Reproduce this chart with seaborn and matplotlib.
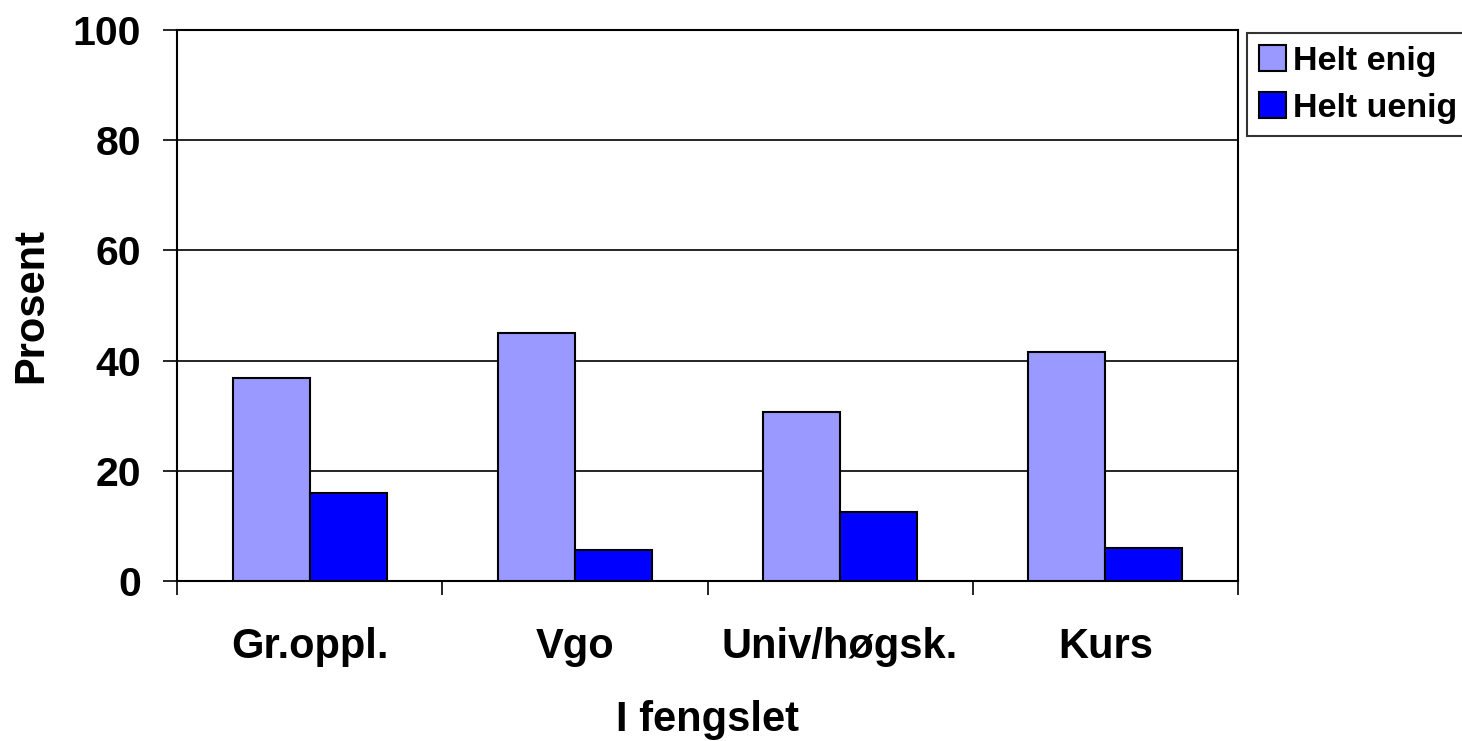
import pandas as pd
import seaborn as sns
import matplotlib.pyplot as plt
from matplotlib.ticker import FixedLocator

# data
kategorier = ["Gr.oppl.", "Vgo", "Univ/høgsk.", "Kurs"]
helt_enig = [36.9, 45.0, 30.6, 41.6]
helt_uenig = [15.9, 5.6, 12.5, 5.9]
serier = ["Helt enig", "Helt uenig"]
farger = {"Helt enig": "#9999FF", "Helt uenig": "#0000FF"}

df = pd.DataFrame({
    "kategori": kategorier * 2,
    "serie": [serier[0]] * len(kategorier) + [serier[1]] * len(kategorier),
    "prosent": helt_enig + helt_uenig,
})

sns.set_style("white")
plt.rcParams["font.family"] = ["Liberation Sans", "DejaVu Sans"]
plt.rcParams["font.weight"] = "bold"
plt.rcParams["text.color"] = "black"
plt.rcParams["axes.labelcolor"] = "black"
plt.rcParams["xtick.color"] = "black"
plt.rcParams["ytick.color"] = "black"

fig = plt.figure(figsize=(14.62, 7.41), dpi=100)
ax = fig.add_axes([177 / 1462, 1 - 581 / 741, (1238 - 177) / 1462, (581 - 30) / 741])

sns.barplot(
    data=df, x="kategori", y="prosent", hue="serie",
    order=kategorier, hue_order=serier, palette=farger, saturation=1,
    width=0.58, gap=0, edgecolor="black", linewidth=1.5,
    ax=ax, zorder=3,
)

ax.set_xlim(-0.5, len(kategorier) - 0.5)
ax.set_ylim(0, 100)
ax.set_yticks([0, 20, 40, 60, 80, 100])
ax.yaxis.grid(True, color="black", linewidth=1.2, zorder=0)
ax.set_axisbelow(True)
for s in ax.spines.values():
    s.set_color("black")
    s.set_linewidth(1.5)

# tick marks between the categories, labels at the centres
ax.xaxis.set_minor_locator(FixedLocator([i - 0.5 for i in range(len(kategorier) + 1)]))
ax.tick_params(axis="x", which="minor", bottom=True, length=10, width=1.2, color="black", direction="out")
ax.tick_params(axis="x", which="major", length=0, pad=33, labelsize=30)
ax.tick_params(axis="y", left=True, length=10, width=1.2, color="black", direction="out", pad=16, labelsize=29.5)

ax.set_xlabel("I fengslet", fontsize=30, fontweight="bold", labelpad=24)
ax.set_ylabel("Prosent", fontsize=30, fontweight="bold", labelpad=15)

ax.legend_.remove()
handles, labels = ax.get_legend_handles_labels()
leg = fig.legend(
    handles, labels, loc="upper left", bbox_to_anchor=(1247 / 1462, 1 - 33 / 741),
    frameon=True, fancybox=False, edgecolor="black", fontsize=24.5,
    handlelength=0.8, handleheight=0.8, handletextpad=0.2, borderpad=0.35,
    labelspacing=0.45, borderaxespad=0,
)
leg.get_frame().set_linewidth(1.5)
for t in leg.get_texts():
    t.set_fontweight("bold")

fig.savefig("out.png", dpi=100)
